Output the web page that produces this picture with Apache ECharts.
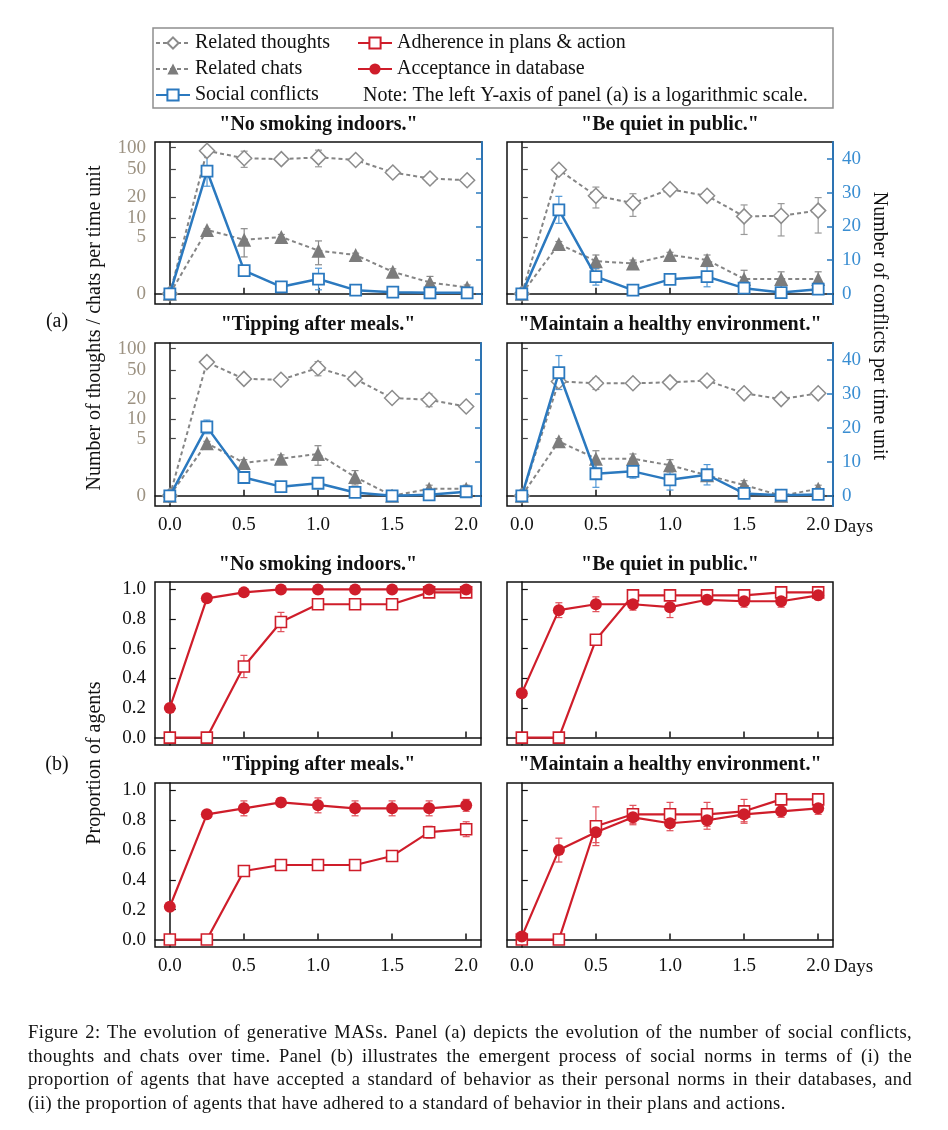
<!DOCTYPE html>
<html>
<head>
<meta charset="utf-8">
<script src="https://cdn.jsdelivr.net/npm/echarts@6/dist/echarts.min.js"></script>
<style>
body { margin: 0; background: #fff; }
#chart { width: 948px; height: 1130px; }
#caption {
  position: absolute; left: 28px; top: 1021px; width: 884px;
  font-family: 'Liberation Serif', serif; font-size: 18.5px; letter-spacing: 0.35px;
  line-height: 23.7px; color: #111;
}
#caption div { text-align: justify; text-align-last: justify; white-space: nowrap; }
#caption div.last { text-align-last: left; }
</style>
</head>
<body>
<div id="chart"></div>
<div id="caption">
  <div>Figure 2: The evolution of generative MASs. Panel (a) depicts the evolution of the number of social conflicts,</div>
  <div>thoughts and chats over time. Panel (b) illustrates the emergent process of social norms in terms of (i) the</div>
  <div>proportion of agents that have accepted a standard of behavior as their personal norms in their databases, and</div>
  <div class="last">(ii) the proportion of agents that have adhered to a standard of behavior in their plans and actions.</div>
</div>
<script>
const days = [0, 0.25, 0.5, 0.75, 1.0, 1.25, 1.5, 1.75, 2.0]
const dayTicks = [0, 0.5, 1.0, 1.5, 2.0]
const logTicks = [0, 5, 10, 20, 50, 100]
const conflictTicks = [0, 10, 20, 30, 40]
const propTicks = [0, 0.2, 0.4, 0.6, 0.8, 1.0]
const normTitles = ['"No smoking indoors."', '"Be quiet in public."', '"Tipping after meals."', '"Maintain a healthy environment."']

// panel (a): thoughts & chats on the left (log) axis, conflicts on the right axis; *Err = error bar half length
const thoughtsSmoking = [0, 90, 71, 69, 73, 67, 45, 37, 35]
const thoughtsSmokingErr = [0, 3, 18, 8, 19, 5, 4, 5, 2]
const chatsSmoking = [0, 6.5, 4.5, 5.0, 2.9, 2.4, 1.0, 0.43, 0.22]
const chatsSmokingErr = [0, 0.3, 2.3, 0.5, 1.4, 0.2, 0.2, 0.3, 0.1]
const conflictsSmoking = [0, 36.4, 6.9, 2.1, 4.4, 1.1, 0.5, 0.3, 0.3]
const conflictsSmokingErr = [0, 4.5, 1.4, 0.5, 3.2, 0.3, 0.5, 0.5, 0.5]

const thoughtsQuiet = [0, 49, 21, 16.5, 26, 21, 10.5, 10.7, 12.8]
const thoughtsQuietErr = [0, 5, 7, 6, 3, 2, 5, 5.5, 7]
const chatsQuiet = [0, 3.8, 1.8, 1.6, 2.4, 1.9, 0.6, 0.6, 0.6]
const chatsQuietErr = [0, 0.4, 0.6, 0.3, 0.3, 0.5, 0.5, 0.4, 0.4]
const conflictsQuiet = [0, 24.9, 5.1, 1.1, 4.3, 5.1, 1.7, 0.4, 1.4]
const conflictsQuietErr = [0, 4, 2.5, 0.3, 0.5, 3, 1.5, 0.3, 0.5]

const thoughtsTipping = [0, 65, 38, 37, 54, 38, 20.4, 19.3, 15.4]
const thoughtsTippingErr = [0, 2, 4, 2, 12, 3, 1.5, 4, 1]
const chatsTipping = [0, 4.2, 1.8, 2.2, 2.7, 0.8, 0, 0.24, 0.24]
const chatsTippingErr = [0, 0.3, 0.3, 0.4, 1.1, 0.4, 0, 0.15, 0.15]
const conflictsTipping = [0, 20.3, 5.4, 2.7, 3.7, 1.0, 0, 0.3, 1.2]
const conflictsTippingErr = [0, 2, 1, 0.3, 1, 0.3, 0, 0.3, 0.6]

const thoughtsHealthy = [0, 35, 33, 33, 34, 36, 23.8, 19.7, 23.8]
const thoughtsHealthyErr = [0, 2, 6, 3, 2, 2, 2, 1, 3]
const chatsHealthy = [0, 4.5, 2.2, 2.2, 1.6, 0.9, 0.4, 0, 0.24]
const chatsHealthyErr = [0, 0.5, 0.9, 0.5, 0.5, 0.3, 0.2, 0, 0.15]
const conflictsHealthy = [0, 36.3, 6.5, 7.2, 4.7, 6.2, 0.7, 0.2, 0.4]
const conflictsHealthyErr = [0, 5, 4, 2, 3, 3, 0.5, 0.3, 0.5]

// panel (b): proportion of agents
const acceptSmoking = [0.2, 0.94, 0.98, 1, 1, 1, 1, 1, 1]
const acceptSmokingErr = [0, 0, 0, 0, 0, 0, 0, 0, 0]
const adhereSmoking = [0, 0, 0.48, 0.78, 0.9, 0.9, 0.9, 0.98, 0.98]
const adhereSmokingErr = [0, 0, 0.075, 0.065, 0.01, 0.01, 0.01, 0.01, 0.01]

const acceptQuiet = [0.3, 0.86, 0.9, 0.9, 0.88, 0.93, 0.92, 0.92, 0.96]
const acceptQuietErr = [0, 0.05, 0.05, 0.04, 0.07, 0.03, 0.04, 0.04, 0.03]
const adhereQuiet = [0, 0, 0.66, 0.96, 0.96, 0.96, 0.96, 0.98, 0.98]
const adhereQuietErr = [0, 0, 0.01, 0.01, 0.01, 0.01, 0.01, 0.01, 0.01]

const acceptTipping = [0.22, 0.84, 0.88, 0.92, 0.9, 0.88, 0.88, 0.88, 0.9]
const acceptTippingErr = [0.02, 0.01, 0.05, 0.03, 0.05, 0.05, 0.05, 0.05, 0.04]
const adhereTipping = [0, 0, 0.46, 0.5, 0.5, 0.5, 0.56, 0.72, 0.74]
const adhereTippingErr = [0, 0, 0.01, 0.01, 0.01, 0.01, 0.01, 0.04, 0.05]

const acceptHealthy = [0.02, 0.6, 0.72, 0.82, 0.78, 0.8, 0.84, 0.86, 0.88]
const acceptHealthyErr = [0.01, 0.08, 0.07, 0.05, 0.05, 0.06, 0.05, 0.04, 0.04]
const adhereHealthy = [0, 0, 0.76, 0.84, 0.84, 0.84, 0.86, 0.94, 0.94]
const adhereHealthyErr = [0, 0, 0.13, 0.06, 0.08, 0.08, 0.08, 0.03, 0.03]

const panelA = [
  [thoughtsSmoking, thoughtsSmokingErr, chatsSmoking, chatsSmokingErr, conflictsSmoking, conflictsSmokingErr],
  [thoughtsQuiet, thoughtsQuietErr, chatsQuiet, chatsQuietErr, conflictsQuiet, conflictsQuietErr],
  [thoughtsTipping, thoughtsTippingErr, chatsTipping, chatsTippingErr, conflictsTipping, conflictsTippingErr],
  [thoughtsHealthy, thoughtsHealthyErr, chatsHealthy, chatsHealthyErr, conflictsHealthy, conflictsHealthyErr]
]
const panelB = [
  [acceptSmoking, acceptSmokingErr, adhereSmoking, adhereSmokingErr],
  [acceptQuiet, acceptQuietErr, adhereQuiet, adhereQuietErr],
  [acceptTipping, acceptTippingErr, adhereTipping, adhereTippingErr],
  [acceptHealthy, acceptHealthyErr, adhereHealthy, adhereHealthyErr]
]

const serif = 'Liberation Serif'
const black = '#111'
const gray = '#858585'
const grayLabel = '#9c9282'
const blue = '#2b79bf'
const blueLabel = '#3a8ed2'
const red = '#cf1d2a'
const tr = v => Math.log10(Math.max(v, 0) + 1)

const boxes = [
  { left: 155, top: 142, width: 327, height: 162 },
  { left: 507, top: 142, width: 326, height: 162 },
  { left: 155, top: 343, width: 326, height: 163 },
  { left: 507, top: 343, width: 326, height: 163 },
  { left: 155, top: 582, width: 326, height: 163 },
  { left: 507, top: 582, width: 326, height: 163 },
  { left: 155, top: 783, width: 326, height: 164 },
  { left: 507, top: 783, width: 326, height: 164 }
]

const grids = boxes.map(b => Object.assign({ show: true, borderColor: black, borderWidth: 1.5, containLabel: false }, b))

const xAxes = boxes.map((b, i) => ({
  type: 'value', gridIndex: i, min: -0.1, max: 2.1,
  axisLine: { show: true, lineStyle: { color: black, width: 1.5 } },
  axisTick: { show: true, inside: true, length: 6, customValues: dayTicks, lineStyle: { color: black, width: 1.5 } },
  axisLabel: {
    show: i === 2 || i === 3 || i === 6 || i === 7, customValues: dayTicks,
    formatter: v => v.toFixed(1), color: black, fontFamily: serif, fontSize: 19, margin: 10
  },
  splitLine: { show: false }
}))

const yAxes = []
for (let i = 0; i < 4; i++) {
  yAxes.push({
    type: 'value', gridIndex: i, position: 'left', min: -0.14, max: 2.08,
    axisLine: { show: true, lineStyle: { color: black, width: 1.5 } },
    axisTick: { show: true, inside: true, length: 6, customValues: logTicks.map(tr), lineStyle: { color: '#444', width: 1.2 } },
    axisLabel: {
      show: i % 2 === 0, customValues: logTicks.map(tr),
      formatter: v => String(Math.round(Math.pow(10, v) - 1)),
      color: grayLabel, fontFamily: serif, fontSize: 19, margin: 9
    },
    splitLine: { show: false }
  })
  yAxes.push({
    type: 'value', gridIndex: i, position: 'right', min: -3, max: 45,
    axisLine: { show: true, lineStyle: { color: blue, width: 1.8 } },
    axisTick: { show: true, inside: true, length: 6, customValues: conflictTicks, lineStyle: { color: blue, width: 1.5 } },
    axisLabel: {
      show: i % 2 === 1, customValues: conflictTicks,
      color: blueLabel, fontFamily: serif, fontSize: 19, margin: 9
    },
    splitLine: { show: false }
  })
}
for (let i = 4; i < 8; i++) {
  yAxes.push({
    type: 'value', gridIndex: i, position: 'left', min: -0.05, max: 1.05,
    axisLine: { show: true, lineStyle: { color: black, width: 1.5 } },
    axisTick: { show: true, inside: true, length: 6, customValues: propTicks, lineStyle: { color: black, width: 1.2 } },
    axisLabel: {
      show: i % 2 === 0, customValues: propTicks, formatter: v => v.toFixed(1),
      color: black, fontFamily: serif, fontSize: 19, margin: 9
    },
    splitLine: { show: false }
  })
}

function errorBars (xi, yi, vals, errs, color, f) {
  return {
    type: 'custom', xAxisIndex: xi, yAxisIndex: yi, z: 1, silent: true,
    encode: { x: 0, y: [1, 2] },
    data: days.map((d, k) => [d, f(vals[k] - errs[k]), f(vals[k] + errs[k]), errs[k]]),
    renderItem: (params, api) => {
      if (!api.value(3)) return
      const lo = api.coord([api.value(0), api.value(1)])
      const hi = api.coord([api.value(0), api.value(2)])
      const w = 3.5
      const st = { stroke: color, lineWidth: 1.2 }
      return {
        type: 'group',
        children: [
          { type: 'line', shape: { x1: lo[0], y1: lo[1], x2: hi[0], y2: hi[1] }, style: st },
          { type: 'line', shape: { x1: lo[0] - w, y1: lo[1], x2: lo[0] + w, y2: lo[1] }, style: st },
          { type: 'line', shape: { x1: hi[0] - w, y1: hi[1], x2: hi[0] + w, y2: hi[1] }, style: st }
        ]
      }
    }
  }
}

const id = v => v
const series = []
panelA.forEach((p, i) => {
  const [th, thE, ch, chE, co, coE] = p
  series.push(errorBars(i, 2 * i, th, thE, '#9a9a9a', tr))
  series.push(errorBars(i, 2 * i, ch, chE, '#8a8a8a', tr))
  series.push(errorBars(i, 2 * i + 1, co, coE, '#4f97d6', id))
  series.push({
    name: 'Related thoughts', type: 'line', xAxisIndex: i, yAxisIndex: 2 * i, z: 2,
    data: days.map((d, k) => [d, tr(th[k])]),
    symbol: 'diamond', symbolSize: 15,
    itemStyle: { color: '#fff', borderColor: '#8c8c8c', borderWidth: 1.5 },
    lineStyle: { color: gray, width: 2, type: [4, 3] }
  })
  series.push({
    name: 'Related chats', type: 'line', xAxisIndex: i, yAxisIndex: 2 * i, z: 2,
    data: days.map((d, k) => [d, tr(ch[k])]),
    symbol: 'triangle', symbolSize: 14,
    itemStyle: { color: '#7c7c7c' },
    lineStyle: { color: gray, width: 2, type: [4, 3] }
  })
  series.push({
    name: 'Social conflicts', type: 'line', xAxisIndex: i, yAxisIndex: 2 * i + 1, z: 3,
    data: days.map((d, k) => [d, co[k]]),
    symbol: 'rect', symbolSize: 11,
    itemStyle: { color: '#fff', borderColor: blue, borderWidth: 1.8 },
    lineStyle: { color: blue, width: 2.5 }
  })
})
panelB.forEach((p, j) => {
  const i = j + 4
  const [ac, acE, ad, adE] = p
  series.push(errorBars(i, 8 + j, ac, acE, '#e0505a', id))
  series.push(errorBars(i, 8 + j, ad, adE, '#e0505a', id))
  series.push({
    name: 'Adherence in plans & action', type: 'line', xAxisIndex: i, yAxisIndex: 8 + j, z: 2,
    data: days.map((d, k) => [d, ad[k]]),
    symbol: 'rect', symbolSize: 11,
    itemStyle: { color: '#fff', borderColor: red, borderWidth: 1.6 },
    lineStyle: { color: red, width: 2.2 }
  })
  series.push({
    name: 'Acceptance in database', type: 'line', xAxisIndex: i, yAxisIndex: 8 + j, z: 3,
    data: days.map((d, k) => [d, ac[k]]),
    symbol: 'circle', symbolSize: 12,
    itemStyle: { color: red },
    lineStyle: { color: red, width: 2.2 }
  })
})

const text = (t, x, y, opts) => Object.assign({
  type: 'text', x: x, y: y, silent: true,
  style: Object.assign({ text: t, fill: black, align: 'center', verticalAlign: 'middle', font: '20px "Liberation Serif"' }, opts || {})
})

const graphic = [
  { type: 'rect', shape: { x: 153, y: 28, width: 680, height: 80 }, style: { fill: 'none', stroke: '#8f8f8f', lineWidth: 1.5 }, silent: true },
  text('Note: The left Y-axis of panel (a) is a logarithmic scale.', 363, 96, { align: 'left' }),
  text('Days', 834, 527, { align: 'left', font: '19px "Liberation Serif"' }),
  text('Days', 834, 967, { align: 'left', font: '19px "Liberation Serif"' }),
  text('(a)', 57, 322),
  text('(b)', 57, 765),
  Object.assign(text('Number of thoughts / chats per time unit', 95, 328), { rotation: Math.PI / 2 }),
  Object.assign(text('Number of conflicts per time unit', 879, 326), { rotation: -Math.PI / 2 }),
  Object.assign(text('Proportion of agents', 95, 763), { rotation: Math.PI / 2 })
]
const titleY = [125, 125, 325, 325, 565, 565, 765, 765]
boxes.forEach((b, i) => {
  graphic.push(text(normTitles[i % 4], b.left + b.width / 2, titleY[i], { font: 'bold 20px "Liberation Serif"' }))
})

const legendBase = {
  orient: 'vertical', top: 33, padding: 0, itemWidth: 34, itemHeight: 14, itemGap: 6,
  selectedMode: false,
  textStyle: { fontFamily: serif, fontSize: 20, color: black, lineHeight: 20 }
}

const chart = echarts.init(document.getElementById('chart'))
chart.setOption({
  animation: false,
  backgroundColor: '#fff',
  legend: [
    Object.assign({ left: 155, data: ['Related thoughts', 'Related chats', 'Social conflicts'] }, legendBase),
    Object.assign({ left: 357, data: ['Adherence in plans & action', 'Acceptance in database'] }, legendBase)
  ],
  grid: grids,
  xAxis: xAxes,
  yAxis: yAxes,
  series: series,
  graphic: graphic
})
</script>
</body>
</html>
